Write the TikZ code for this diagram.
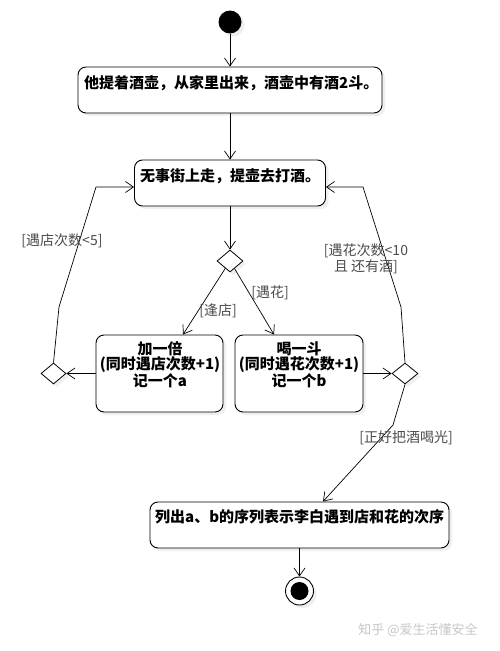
\documentclass[tikz,border=0pt]{standalone}
\usepackage{fontspec}
\newfontfamily\cjk{Noto Sans CJK SC}
\usetikzlibrary{arrows.meta,shapes.geometric,shadows}
\tikzset{
  myshadow/.style={drop shadow={shadow xshift=3pt, shadow yshift=-3pt, fill=black!12}},
  actbox/.style={draw, line width=0.9pt, rounded corners=8pt, fill=white, inner sep=0pt, myshadow},
  boxtext/.style={font=\cjk\bfseries\fontsize{15}{15}\selectfont, inner sep=0pt, align=center},
  guard/.style={font=\cjk\fontsize{14}{16}\selectfont, text=black!70, inner sep=0pt, align=center},
  decision/.style={draw, diamond, line width=0.8pt, fill=white, minimum width=26pt, minimum height=22pt, inner sep=0pt, myshadow},
  flow/.style={line width=0.7pt, -{Straight Barb[length=8pt,width=11pt]}},
}
\begin{document}
\begin{tikzpicture}[x=1pt,y=-1pt]
\useasboundingbox[fill=white] (0,0) rectangle (500,651);

% start
\node[circle, fill=black, minimum size=23pt, inner sep=0pt, myshadow] (start) at (230,22) {};

% action boxes
\node[actbox, minimum width=304pt, minimum height=46pt] (b1) at (230,90) {};
\node[boxtext, anchor=west] (t1) at (84,83) {他提着酒壶，从家里出来，酒壶中有酒2斗。};

\node[actbox, minimum width=191pt, minimum height=46pt] (b2) at (230,183) {};
\node[boxtext, anchor=west] (t2) at (140,176) {无事街上走，提壶去打酒。};

\node[actbox, minimum width=127pt, minimum height=77pt] (b3) at (159.5,373.5) {};
\node[boxtext] (t3) at (160,365) {加一倍\\(同时遇店次数+1)\\记一个a};

\node[actbox, minimum width=128pt, minimum height=77pt] (b4) at (299,373.5) {};
\node[boxtext] (t4) at (299,365) {喝一斗\\(同时遇花次数+1)\\记一个b};

\node[actbox, minimum width=299pt, minimum height=46pt] (b5) at (299.5,525) {};
\node[boxtext, anchor=west] (t5) at (155,517) {列出a、b的序列表示李白遇到店和花的次序};

% decisions
\node[decision] (d1) at (230,261) {};
\node[decision, minimum width=25pt, minimum height=21pt] (dl) at (53.5,373.5) {};
\node[decision, minimum width=26pt, minimum height=21pt] (dr) at (405,373.5) {};

% end
\node[circle, draw, line width=0.9pt, fill=white, minimum size=28pt, inner sep=0pt, myshadow] (end) at (299.5,591) {};
\node[circle, fill=black, minimum size=18pt, inner sep=0pt] (enddot) at (end) {};

% waypoints
\coordinate (l1) at (59,307);
\coordinate (l2) at (96,187);
\coordinate (r1) at (401,307);
\coordinate (r2) at (363,187);
\coordinate (r3) at (393,425);

% connectors
\draw[flow] (start) -- (b1);
\draw[flow] (b1) -- (b2);
\draw[flow] (b2) -- (d1);
\draw[flow] (d1) -- ([xshift=23.5pt]b3.north);
\draw[flow] (d1) -- ([xshift=-25pt]b4.north);
\draw[flow] (b3.west) -- (dl.east);
\draw[flow] (b4.east) -- (dr.west);
\draw[flow] (dl.north) -- (l1) -- (l2) -- (l2 -| b2.west);
\draw[flow] (dr.north) -- (r1) -- (r2) -- (r2 -| b2.east);
\draw[flow] (dr.south) -- (r3) -- ([xshift=23.5pt]b5.north);
\draw[flow] (b5) -- (end);

% guards
\node[guard] (g1) at (62,241) {[遇店次数<5]};
\node[guard] (g2) at (366,259) {[遇花次数<10\\且 还有酒]};
\node[guard] (g3) at (218,311) {[逢店]};
\node[guard] (g4) at (270,293) {[遇花]};
\node[guard] (g5) at (406,438) {[正好把酒喝光]};

% watermark
\node[font=\cjk\fontsize{13}{15}\selectfont, text=black!22, inner sep=0pt] (wm) at (418,630) {知乎 @爱生活懂安全};
\end{tikzpicture}
\end{document}
